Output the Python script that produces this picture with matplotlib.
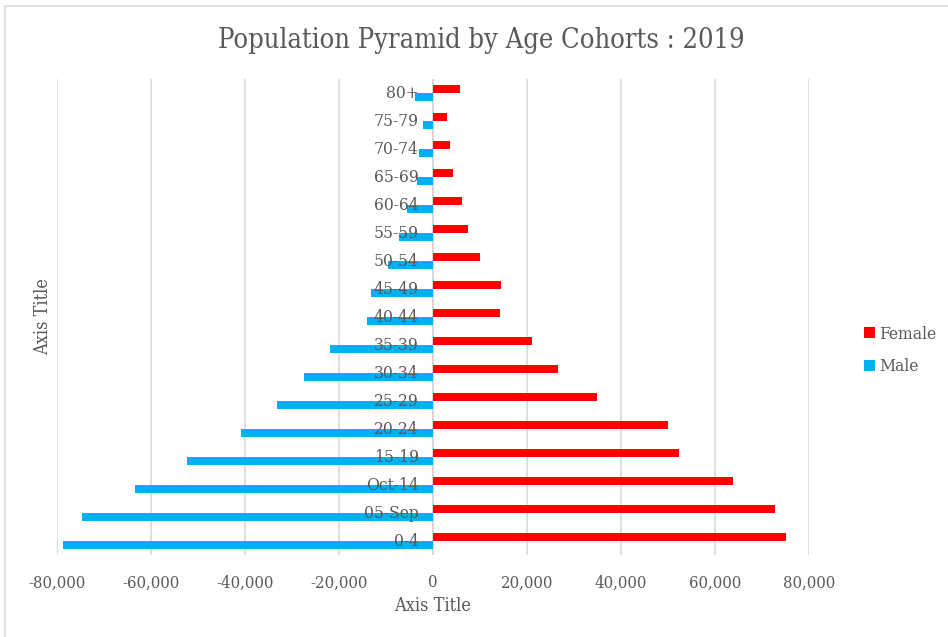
import numpy as np
import matplotlib
matplotlib.use('Agg')
import matplotlib.pyplot as plt
import matplotlib.transforms as mtransforms
from matplotlib.patches import Rectangle

# values
age_groups = ['0-4', '05-Sep', 'Oct-14', '15-19', '20-24', '25-29', '30-34', '35-39',
              '40-44', '45-49', '50-54', '55-59', '60-64', '65-69', '70-74', '75-79', '80+']
female = [75200, 72700, 63900, 52300, 50000, 34800, 26700, 21100,
          14200, 14400, 9900, 7400, 6200, 4300, 3700, 2900, 5700]
male = [-78700, -74700, -63400, -52300, -40900, -33200, -27400, -21900,
        -14000, -13200, -9600, -7200, -5500, -3400, -3000, -2100, -3800]
x_ticks = [-80000, -60000, -40000, -20000, 0, 20000, 40000, 60000, 80000]

text_col = '#595959'
grid_col = '#D9D9D9'
female_col = '#FF0000'
male_col = '#00B0F0'

plt.rcParams['font.family'] = ['DejaVu Serif']
plt.rcParams['font.stretch'] = 'condensed'

fig = plt.figure(figsize=(9.48, 6.37), dpi=100)
fig.patches.append(Rectangle((5 / 948, -0.1), 1.2, 1 - 6 / 637 + 0.1, transform=fig.transFigure,
                             fill=False, edgecolor='#D9D9D9', linewidth=1.2))

ax = fig.add_axes([57 / 948, 1 - 555 / 637, (809 - 57) / 948, (555 - 79) / 637])

y = np.arange(len(age_groups))
h = 0.28
ax.barh(y + 0.145, female, height=h, color=female_col, label='Female', zorder=2)
ax.barh(y - 0.145, male, height=h, color=male_col, label='Male', zorder=2)

ax.set_xlim(-80000, 80000)
ax.set_ylim(-0.5, len(age_groups) - 0.5)
ax.set_xticks(x_ticks)
ax.set_xticklabels([f'{v:,}' for v in x_ticks], color=text_col, fontsize=12)
ax.tick_params(axis='x', length=0, pad=14)
ax.set_yticks([])
ax.grid(axis='x', color=grid_col, linewidth=1.2, zorder=0)
ax.axvline(0, color='#C8C8C8', linewidth=1.2, zorder=1)
for s in ax.spines.values():
    s.set_visible(False)

# category labels sit next to the zero axis
lab_tr = mtransforms.offset_copy(ax.transData, fig=fig, x=-14, y=0, units='dots')
for i, g in enumerate(age_groups):
    ax.text(0, i, g, transform=lab_tr, ha='right', va='center', fontsize=12.5,
            color=text_col, zorder=3)

ax.set_xlabel('Axis Title', fontsize=13, color=text_col, labelpad=4)
ax.set_ylabel('Axis Title', fontsize=13, color=text_col)
ax.yaxis.set_label_coords(-0.006, 0.5)

fig.text(481 / 948, 1 - 40 / 637, 'Population Pyramid by Age Cohorts : 2019', ha='center',
         va='center', fontsize=19.5, color=text_col)

leg = ax.legend(loc='center left', bbox_to_anchor=(1.053, 0.43), frameon=False,
                fontsize=12.5, labelcolor=text_col, handlelength=0.6, handleheight=0.6,
                handletextpad=0.25, labelspacing=0.9)

fig.savefig('out.png', dpi=100, facecolor='white')
